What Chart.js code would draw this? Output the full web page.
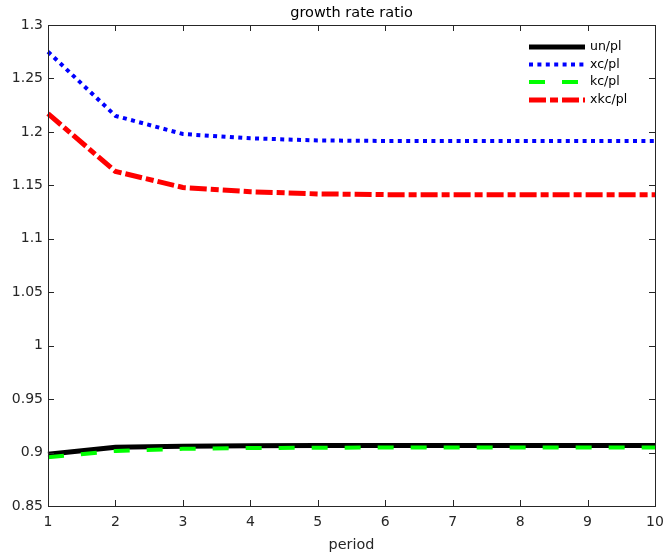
<!DOCTYPE html>
<html lang="en">
    <head>
        <meta charset="UTF-8" />
        <title>growth rate ratio</title>
        <script src="https://cdn.jsdelivr.net/npm/chart.js@4"></script>
    </head>
    <body>
        <style>
            * {
                padding: 0;
                margin: 0;
                box-sizing: border-box;
            }

            body {
                width: 666px;
                height: 557px;
                background-color: white;
                overflow: hidden;
            }

            .chart-container {
                width: 666px;
                height: 557px;
            }
        </style>

        <div class="chart-container">
            <canvas id="growthChart"></canvas>
        </div>

        <script>
            const periods = ["1", "2", "3", "4", "5", "6", "7", "8", "9", "10"];
            const unPl = [0.8985, 0.905, 0.906, 0.9063, 0.9065, 0.9066, 0.9066, 0.9066, 0.9066, 0.9066];
            const xcPl = [1.275, 1.215, 1.198, 1.194, 1.192, 1.1915, 1.1915, 1.1915, 1.1915, 1.1915];
            const kcPl = [0.8955, 0.9015, 0.9035, 0.9042, 0.9045, 0.9047, 0.9047, 0.9047, 0.9047, 0.9047];
            const xkcPl = [1.217, 1.163, 1.148, 1.144, 1.142, 1.1413, 1.1413, 1.1413, 1.1413, 1.1413];
            const yTicks = [0.85, 0.9, 0.95, 1, 1.05, 1.1, 1.15, 1.2, 1.25, 1.3];
            const yTickLabels = ["0.85", "0.9", "0.95", "1", "1.05", "1.1", "1.15", "1.2", "1.25", "1.3"];

            const FONT = "'DejaVu Sans', sans-serif";
            const AXIS_COLOR = "#262626";

            // MATLAB-like box with inward ticks, plus title and legend
            const matlabFrame = {
                id: "matlabFrame",
                afterDatasetsDraw(chart) {
                    const { ctx, chartArea: a, scales } = chart;
                    const tl = 6;
                    ctx.save();
                    ctx.strokeStyle = AXIS_COLOR;
                    ctx.lineWidth = 1;
                    ctx.setLineDash([]);
                    ctx.beginPath();
                    yTicks.forEach((v) => {
                        const y = Math.round(scales.y.getPixelForValue(v)) + 0.5;
                        ctx.moveTo(a.left, y);
                        ctx.lineTo(a.left + tl, y);
                        ctx.moveTo(a.right, y);
                        ctx.lineTo(a.right - tl, y);
                    });
                    periods.forEach((p, i) => {
                        const x = Math.round(scales.x.getPixelForValue(i)) + 0.5;
                        ctx.moveTo(x, a.bottom);
                        ctx.lineTo(x, a.bottom - tl);
                        ctx.moveTo(x, a.top);
                        ctx.lineTo(x, a.top + tl);
                    });
                    ctx.stroke();
                    ctx.strokeRect(
                        Math.round(a.left) + 0.5,
                        Math.round(a.top) + 0.5,
                        Math.round(a.right - a.left),
                        Math.round(a.bottom - a.top)
                    );

                    // title
                    ctx.fillStyle = "#000";
                    ctx.font = "14.5px " + FONT;
                    ctx.textAlign = "center";
                    ctx.textBaseline = "middle";
                    ctx.fillText("growth rate ratio", (a.left + a.right) / 2, 13);

                    // legend
                    ctx.font = "12.5px " + FONT;
                    ctx.textAlign = "left";
                    const rows = [47, 64.5, 82, 100];
                    chart.data.datasets.forEach((ds, i) => {
                        const y = rows[i];
                        ctx.strokeStyle = ds.borderColor;
                        ctx.lineWidth = ds.borderWidth;
                        ctx.lineCap = "butt";
                        ctx.setLineDash(ds.borderDash || []);
                        ctx.beginPath();
                        ctx.moveTo(529, y);
                        ctx.lineTo(585, y);
                        ctx.stroke();
                        ctx.fillStyle = "#000";
                        ctx.fillText(ds.label, 590, y);
                    });
                    ctx.restore();
                },
            };

            Chart.register(matlabFrame);

            const ctx = document.getElementById("growthChart").getContext("2d");
            const growthChart = new Chart(ctx, {
                type: "line",
                data: {
                    labels: periods,
                    datasets: [
                        {
                            label: "un/pl",
                            data: unPl,
                            borderColor: "#000000",
                            borderWidth: 5,
                            order: 1,
                        },
                        {
                            label: "xc/pl",
                            data: xcPl,
                            borderColor: "#0000ff",
                            borderWidth: 4,
                            borderDash: [4, 4.4],
                        },
                        {
                            label: "kc/pl",
                            data: kcPl,
                            borderColor: "#00ff00",
                            borderWidth: 4,
                            borderDash: [16, 17],
                        },
                        {
                            label: "xkc/pl",
                            data: xkcPl,
                            borderColor: "#ff0000",
                            borderWidth: 5,
                            borderDash: [17, 4, 8, 4],
                        },
                    ],
                },
                options: {
                    animation: false,
                    responsive: true,
                    maintainAspectRatio: false,
                    layout: {
                        padding: { top: 25, right: 11, left: 0, bottom: 0 },
                    },
                    elements: {
                        point: { radius: 0 },
                        line: { tension: 0, borderCapStyle: "butt", fill: false },
                    },
                    plugins: {
                        legend: { display: false },
                        title: { display: false },
                        tooltip: { enabled: false },
                    },
                    scales: {
                        x: {
                            type: "category",
                            offset: false,
                            grid: { display: false, drawTicks: false },
                            border: { display: false },
                            ticks: {
                                color: "#262626",
                                font: { size: 14, family: FONT },
                                padding: 8,
                                maxRotation: 0,
                                autoSkip: false,
                            },
                            title: {
                                display: true,
                                text: "period",
                                color: "#262626",
                                font: { size: 14.4, family: FONT },
                                padding: { top: 0, bottom: 3 },
                            },
                            afterFit(scale) {
                                scale.height = 51;
                                scale.paddingLeft = 0;
                                scale.paddingRight = 0;
                            },
                        },
                        y: {
                            min: 0.85,
                            max: 1.3,
                            grid: { display: false, drawTicks: false },
                            border: { display: false },
                            afterBuildTicks(scale) {
                                scale.ticks = yTicks.map((v) => ({ value: v }));
                            },
                            ticks: {
                                color: "#262626",
                                font: { size: 14, family: FONT },
                                padding: 5,
                                callback: function (value, index) {
                                    return yTickLabels[index];
                                },
                            },
                            afterFit(scale) {
                                scale.width = 48;
                                scale.paddingTop = 0;
                                scale.paddingBottom = 0;
                            },
                        },
                    },
                },
            });
        </script>
    </body>
</html>
